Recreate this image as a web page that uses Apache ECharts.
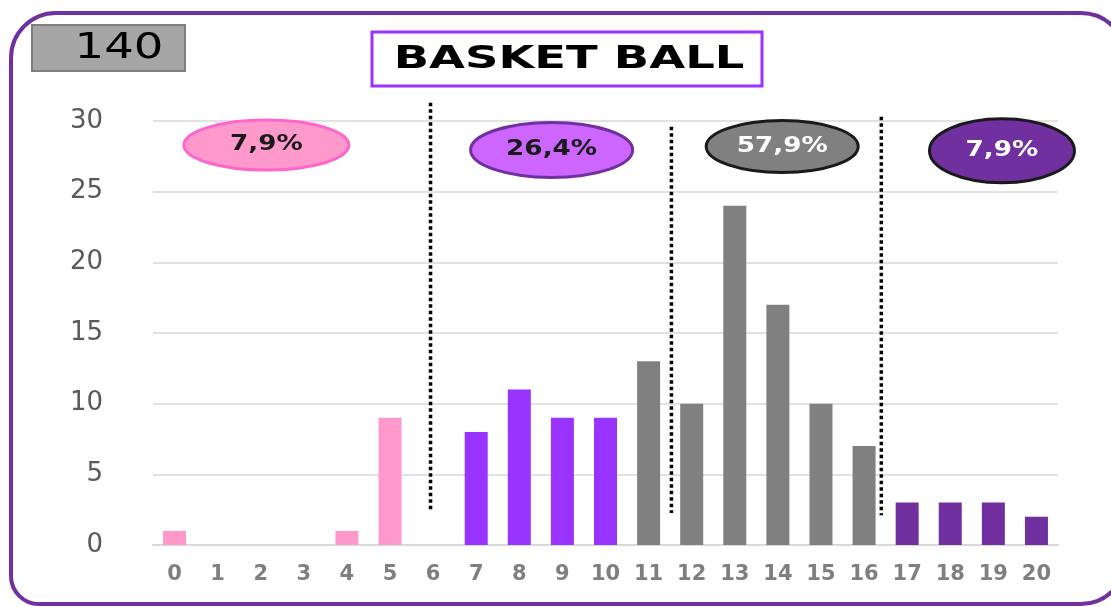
<!DOCTYPE html>
<html><head><meta charset="utf-8">
<script src="https://cdn.jsdelivr.net/npm/echarts@6/dist/echarts.min.js"></script>
<style>html,body{margin:0;padding:0;background:#fff}#c{width:1111px;height:607px}</style>
</head><body><div id="c"></div>
<script>
const categories = ['0','1','2','3','4','5','6','7','8','9','10','11','12','13','14','15','16','17','18','19','20'];
const values = [1,0,0,0,1,9,0,8,11,9,9,13,10,24,17,10,7,3,3,3,2];
const groupOf = [0,0,0,0,0,0,0,1,1,1,1,2,2,2,2,2,2,3,3,3,3];
const groupColors = ['#FF99CC','#9933FF','#808080','#7030A0'];
const percentLabels = ['7,9%','26,4%','57,9%','7,9%'];
const ellipseX = [2.13, 8.75, 14.1, 19.2];
const ellipseY = [28.3, 27.95, 28.2, 27.9];
const ellipseSizes = [[165,50],[162,55],[152,52],[145,64]];
const ellipseFill = ['#FF99CC','#CC66FF','#808080','#7030A0'];
const ellipseBorder = ['#FF66CC','#7030A0','#1a1a1a','#1a1a1a'];
const ellipseText = ['#1a1a1a','#1a1a1a','#ffffff','#ffffff'];
const dividers = [[5.94, 31.3, 2.5],[11.53, 29.6, 2.26],[16.4, 30.3, 2.1]];
const totalLabel = '140';
const titleText = 'BASKET BALL';
const yTicks = {min:0, max:30, interval:5};

const chart = echarts.init(document.getElementById('c'));
const series = [{
  type:'bar', xAxisIndex:0, yAxisIndex:0, barWidth:23,
  data: values.map((v,i)=>({value:v, itemStyle:{color:groupColors[groupOf[i]]}}))
}];
dividers.forEach(d=>{
  series.push({type:'line', xAxisIndex:1, yAxisIndex:0, clip:false, symbol:'none', silent:true,
    lineStyle:{color:'#000', width:3.5, type:[3.5,3]}, data:[[d[0],d[1]],[d[0],d[2]]]});
});
series.push({
  type:'custom', xAxisIndex:1, yAxisIndex:0, clip:false, silent:true, z:5,
  data: ellipseX.map((x,i)=>[x, ellipseY[i], i]),
  renderItem:function(params, api){
    const i = api.value(2);
    const p = api.coord([api.value(0), api.value(1)]);
    const s = ellipseSizes[i];
    return {type:'group', children:[
      {type:'ellipse', shape:{cx:p[0], cy:p[1], rx:s[0]/2, ry:s[1]/2},
       style:{fill:ellipseFill[i], stroke:ellipseBorder[i], lineWidth:3}},
      {type:'text', x:p[0], y:p[1], scaleX:1.25,
       style:{text:percentLabels[i], fill:ellipseText[i], font:'bold 21px "DejaVu Sans"', align:'center', verticalAlign:'middle'}}
    ]};
  }
});

chart.setOption({
  animation:false,
  grid:{left:153, right:53, top:121, bottom:62},
  xAxis:[{
    type:'category', data:categories,
    axisLine:{lineStyle:{color:'#D9D9D9', width:2}}, axisTick:{show:false},
    axisLabel:{color:'#7F7F7F', fontSize:21, fontWeight:'bold', fontFamily:'DejaVu Sans', margin:19, interval:0}
  },{
    type:'value', min:-0.5, max:20.5, show:false
  }],
  yAxis:{
    type:'value', min:yTicks.min, max:yTicks.max, interval:yTicks.interval,
    axisLine:{show:false}, axisTick:{show:false},
    splitLine:{lineStyle:{color:'#D9D9D9', width:1.5}},
    axisLabel:{color:'#595959', fontSize:26, fontFamily:'DejaVu Sans', margin:50}
  },
  graphic:[
    {type:'rect', shape:{x:11, y:13, width:1115, height:591, r:[45,45,45,28]}, style:{fill:'none', stroke:'#7030A0', lineWidth:4}, z:-1},
    {type:'rect', shape:{x:32, y:25, width:153, height:46}, style:{fill:'#A6A6A6', stroke:'#7F7F7F', lineWidth:2}},
    {type:'text', x:119, y:49, scaleX:1.33, style:{text:totalLabel, fill:'#000', font:'35px "DejaVu Sans"', align:'center', verticalAlign:'middle'}},
    {type:'rect', shape:{x:372, y:32, width:390, height:54}, style:{fill:'#fff', stroke:'#9933FF', lineWidth:3}},
    {type:'text', x:569, y:60, scaleX:1.45, style:{text:titleText, fill:'#000', font:'bold 32px "DejaVu Sans"', align:'center', verticalAlign:'middle'}}
  ],
  series: series
});
</script></body></html>
